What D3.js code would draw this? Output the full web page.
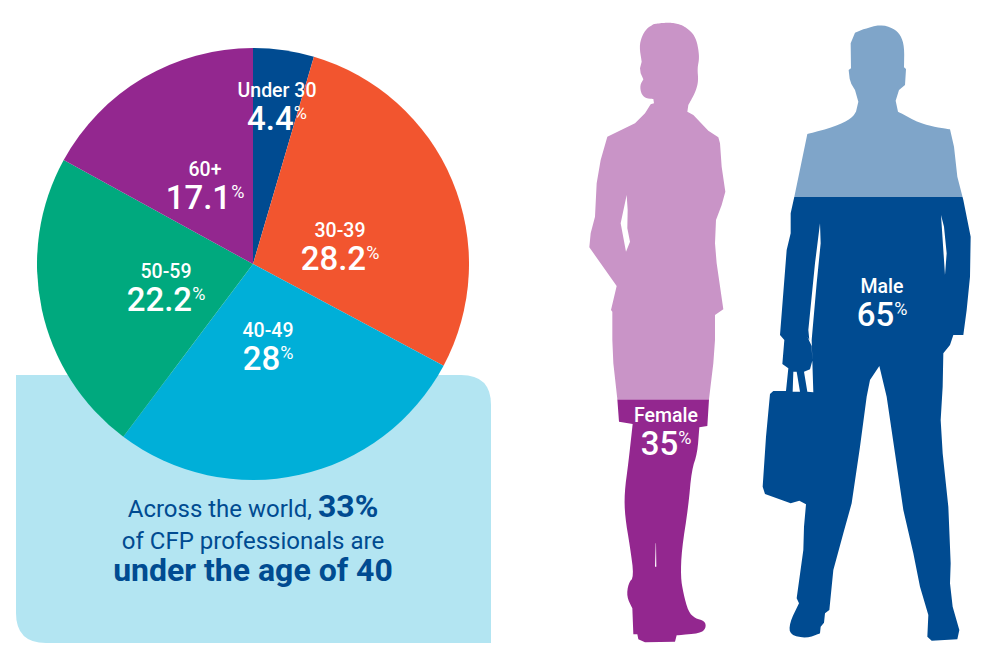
<!DOCTYPE html>
<html><head><meta charset="utf-8">
<script src="https://cdn.jsdelivr.net/npm/d3@7"></script>
<style>html,body{margin:0;padding:0;background:#fff}svg{display:block;font-family:Roboto,sans-serif}</style>
</head><body><svg id="c" width="1004" height="666"></svg>
<script>
// ---------- data ----------
const ageCategories = ["Under 30","30-39","40-49","50-59","60+"];
const ageLabels = [4.4,28.2,28,22.2,17.1];
const ageSlices = [4.55,28.25,27.45,22.75,17.0];
const ageColors = ["#004B91","#F2552F","#00AFD8","#00A97E","#93278F"];
const genderCategories = ["Female","Male"];
const genderValues = [35,65];
const calloutLines = [
  [["Across the world, ",400],["33%",700]],
  [["of CFP professionals are",400]],
  [["under the age of 40",700]]
];
// ---------- layout ----------
const cx=253, cy=264, R=216;
const labelAnchors=[[277,97],[340,237],[268,337],[166,278],[205,176]];
const svg=d3.select("#c");

// callout box (square top-left and bottom-right corners)
const bx0=16,bx1=491,by0=375,by1=643,br=30;
const boxPath=d3.path();
boxPath.moveTo(bx0,by0);boxPath.lineTo(bx1-br,by0);
boxPath.quadraticCurveTo(bx1,by0,bx1,by0+br);
boxPath.lineTo(bx1,by1);boxPath.lineTo(bx0+br,by1);
boxPath.quadraticCurveTo(bx0,by1,bx0,by1-br);boxPath.closePath();
svg.append("path").attr("d",boxPath.toString()).attr("fill","#B3E5F2");

// pie
const pie=d3.pie().sort(null).value(d=>d)(ageSlices);
const arc=d3.arc().innerRadius(0).outerRadius(R);
const gp=svg.append("g").attr("transform",`translate(${cx},${cy})`);
gp.selectAll("path").data(pie).join("path").attr("d",arc).attr("fill",(d,i)=>ageColors[i]);

function label(g,x,y,cat,val){
  g.append("text").attr("x",x).attr("y",y).attr("text-anchor","middle").attr("fill","#fff")
    .attr("font-size",19.5).attr("font-weight",500).text(cat);
  const t=g.append("text").attr("x",x).attr("y",y+32.5).attr("text-anchor","middle").attr("fill","#fff")
    .attr("font-size",33).attr("font-weight",500);
  t.append("tspan").text(val);
  t.append("tspan").attr("font-size",18).attr("font-weight",400).attr("dy",-11).text("%");
}
ageCategories.forEach((c,i)=>label(svg,labelAnchors[i][0],labelAnchors[i][1],c,ageLabels[i]));

// callout text
[517,549,581].forEach((y,i)=>{
  const t=svg.append("text").attr("text-anchor","middle").attr("fill","#004B91").attr("x",253).attr("y",y);
  calloutLines[i].forEach(s=>t.append("tspan").attr("font-weight",s[1]).attr("font-size",s[1]===700?32:24).text(s[0]));
});

// ---------- silhouettes: outline tracing, in px ----------
const line=d3.line().curve(d3.curveLinear);
const closed=p=>line(p)+"Z";
const zA=(ox,oy)=>p=>p.map(([x,y])=>[ox+x/3,oy+y/3]);
const fT=zA(580,10), fB=zA(580,320), mT=zA(750,10), mB=zA(750,320);
// corner-cutting for the rounded stretches of the tracing (head, shoes)
function soft(p,n=3){
  for(let k=0;k<n;k++){
    const out=[p[0]];
    for(let i=0;i<p.length-1;i++){
      const a=p[i],b=p[i+1];
      out.push([a[0]*.75+b[0]*.25,a[1]*.75+b[1]*.25],[a[0]*.25+b[0]*.75,a[1]*.25+b[1]*.75]);
    }
    out.push(p[p.length-1]);p=out;
  }
  return p;
}

const femaleOutline=[
 ...soft(fT([[222,42],[255,38],[285,39],[312,48],[335,66],[347,85],[354,110],[358,145],[352,175],[355,210],[350,235],[340,258],[325,285]])),
 ...fT([[322,305],[340,315],[385,362],[415,382],[420,400],[425,470],[436,545],[425,585],[408,630],[405,700],[410,760],[430,898],[405,915]]),
 ...fB([[405,60],[400,130],[387,238],[382,318],[358,322]]),
 ...soft(fB([[358,322],[352,400],[335,450],[325,560],[305,690],[302,770],[310,820],[325,875],[345,895],[375,903],[378,925],[360,940],[290,946]]),2),
 ...fB([[285,965],[195,967],[175,958],[172,943],[160,943],[157,865]]),
 ...soft(fB([[157,865],[140,830],[145,790],[162,770],[150,680],[135,590],[133,520],[145,430],[158,312]]),2),
 ...fB([[117,305],[112,238],[100,130],[97,60]]),
 ...fT([[97,905],[93,900],[110,828],[28,712],[32,670],[45,620],[50,520],[62,450],[82,380],[165,340],[195,310],[212,283],[222,280],[220,267]]),
 ...soft(fT([[220,267],[195,264],[183,250],[180,225],[190,208]]),2),
 ...fT([[182,190],[180,175],[185,155]]),
 ...soft(fT([[185,155],[178,110],[185,80],[200,55],[222,42]]),2)
];
const femaleHoles=[
 fT([[140,555],[122,640],[138,725],[150,695],[142,655],[143,600]]),
 fB([[227,670],[225,740],[229,740],[228,670]])
];
const maleOutline=[
 ...soft(mT([[340,58],[390,43],[430,55],[452,75],[463,110],[462,172]]),2),
 ...mT([[468,177],[465,225],[447,240],[437,272],[444,305]]),
 ...soft(mT([[444,305],[510,340],[560,352],[600,358]]),2),
 ...mT([[612,410],[622,500],[640,570],[662,680],[660,800],[650,900],[640,975]]),
 ...mB([[640,45],[610,45],[600,75],[580,100],[578,200],[572,300],[578,400],[595,560],[602,730],[600,790],[608,860],[628,930],[622,958],[545,962],[532,950],[535,885],[510,800],[490,700],[460,570],[435,400],[410,230],[388,138],[360,180],[350,230],[330,380],[305,550],[280,640],[250,750],[238,870],[225,880],[222,908],[212,920],[210,940]]),
 ...soft(mB([[210,940],[170,955],[120,945],[118,910],[147,850]]),2),
 ...mB([[140,835],[160,690],[162,620],[168,553],[148,542],[122,550],[45,522],[38,500],[48,350],[60,222],[70,213],[108,213],[115,145],[97,132],[103,60],[90,45]]),
 ...mT([[90,975],[110,720],[122,670],[122,610],[133,560],[172,372]]),
 ...soft(mT([[172,372],[255,350],[305,325],[318,305]]),2),
 ...mT([[325,275],[315,240]]),
 ...soft(mT([[315,240],[300,215],[296,180]]),1),
 ...mT([[303,175],[302,100],[315,68],[340,58]])
];
const maleHoles=[
 [...mT([[210,640],[195,760],[175,960],[178,990]]),...mB([[172,50],[185,78],[187,122],[180,148],[162,155],[172,215],[190,217],[185,60]]),...mT([[185,990],[200,820],[212,700]])],
 mB([[130,155],[128,215],[150,215],[140,155]]),
 mT([[573,615],[585,795],[590,730],[582,650]])
];
function figure(id,outline,holes,split,light,dark){
  const d=[outline,...holes].map(closed).join("");
  svg.append("clipPath").attr("id",id+"-top").append("rect").attr("x",0).attr("y",0).attr("width",1004).attr("height",split);
  svg.append("clipPath").attr("id",id+"-bot").append("rect").attr("x",0).attr("y",split).attr("width",1004).attr("height",666-split);
  svg.append("path").attr("d",d).attr("fill-rule","evenodd").attr("fill",light).attr("clip-path",`url(#${id}-top)`);
  svg.append("path").attr("d",d).attr("fill-rule","evenodd").attr("fill",dark).attr("clip-path",`url(#${id}-bot)`);
}
figure("female",femaleOutline,femaleHoles,399.5,"#C994C7","#93278F");
figure("male",maleOutline,maleHoles,197,"#7FA5C9","#004B91");

label(svg,666,422,genderCategories[0],genderValues[0]);
label(svg,882,293,genderCategories[1],genderValues[1]);
</script></body></html>
